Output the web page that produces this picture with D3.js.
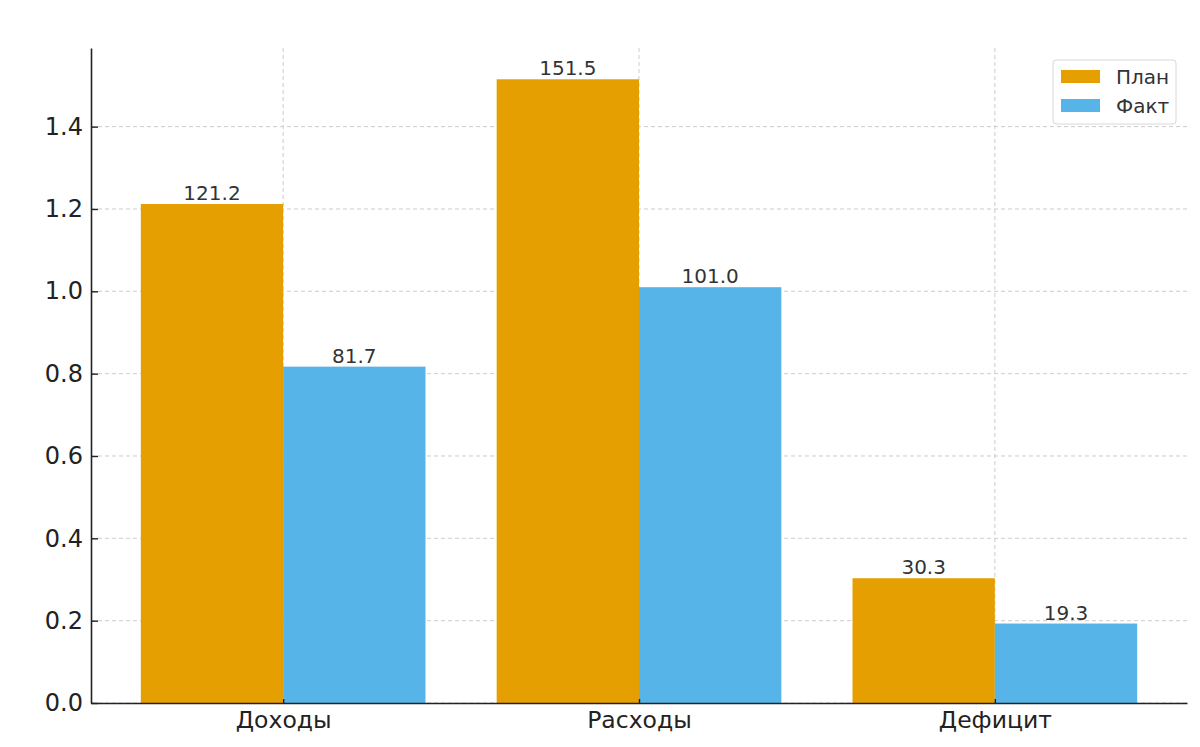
<!DOCTYPE html>
<html><head><meta charset="utf-8">
<script src="https://cdn.jsdelivr.net/npm/d3@7"></script>
<style>body{margin:0;background:#fff}svg{display:block}text{font-family:"DejaVu Sans",sans-serif}</style>
</head><body><svg id="c" width="1200" height="747"></svg>
<script>
const categories = ["Доходы", "Расходы", "Дефицит"];
const seriesNames = ["План", "Факт"];
const planValues = [1.212, 1.515, 0.303];
const factValues = [0.817, 1.010, 0.193];
const planLabels = ["121.2", "151.5", "30.3"];
const factLabels = ["81.7", "101.0", "19.3"];
const yTicks = [0, 0.2, 0.4, 0.6, 0.8, 1.0, 1.2, 1.4];
const colors = ["#E69F00", "#56B4E9"];

const svg = d3.select("#c");
const L = 91, R = 1187, T = 48, B = 703;
const x = d3.scaleLinear().domain([-0.54, 2.54]).range([L, R]);
const y = d3.scaleLinear().domain([0, 1.591]).range([B, T]);
const bw = 0.4;

// grid
const g = svg.append("g");
g.selectAll("line.gy").data(yTicks).join("line")
  .attr("x1", L).attr("x2", R).attr("y1", d => y(d)).attr("y2", d => y(d))
  .attr("stroke", "#cccccc").attr("stroke-width", 1).attr("stroke-dasharray", "4,3");
g.selectAll("line.gx").data(categories).join("line")
  .attr("x1", (d, i) => x(i)).attr("x2", (d, i) => x(i)).attr("y1", T).attr("y2", B)
  .attr("stroke", "#cccccc").attr("stroke-width", 1).attr("stroke-dasharray", "4,3");

const series = [planValues, factValues];
const labels = [planLabels, factLabels];
series.forEach((vals, s) => {
  const off = s === 0 ? -bw : 0;
  svg.append("g").selectAll("rect").data(vals).join("rect")
    .attr("x", (d, i) => x(i + off)).attr("width", x(bw) - x(0))
    .attr("y", d => y(d)).attr("height", d => B - y(d))
    .attr("fill", colors[s]);
  svg.append("g").selectAll("text").data(vals).join("text")
    .attr("x", (d, i) => x(i + off + bw / 2)).attr("y", d => y(d) - 4)
    .attr("text-anchor", "middle").attr("font-size", 20).attr("fill", "#333")
    .text((d, i) => labels[s][i]);
});

// axes
const ya = svg.append("g").attr("transform", `translate(${L},0)`)
  .call(d3.axisLeft(y).tickValues(yTicks).tickFormat(d3.format(".1f")).tickSizeInner(-7).tickSizeOuter(0).tickPadding(8));
ya.select(".domain").attr("stroke", "#222").attr("stroke-width", 1.6);
ya.selectAll(".tick line").attr("stroke", "#222").attr("stroke-width", 1.4);
ya.selectAll("text").attr("font-size", 24).attr("fill", "#222").attr("font-family", "DejaVu Sans");

const xa = svg.append("g").attr("transform", `translate(0,${B})`)
  .call(d3.axisBottom(x).tickValues([0, 1, 2]).tickFormat(i => categories[i]).tickSizeInner(-4).tickSizeOuter(0).tickPadding(8));
xa.select(".domain").attr("stroke", "#222").attr("stroke-width", 1.6);
xa.selectAll(".tick line").attr("stroke", "#222").attr("stroke-width", 1.4);
xa.selectAll("text").attr("font-size", 23.5).attr("fill", "#222").attr("font-family", "DejaVu Sans");

// legend
const lg = svg.append("g").attr("transform", "translate(1053,60)");
lg.append("rect").attr("width", 123).attr("height", 64).attr("rx", 3)
  .attr("fill", "#fff").attr("fill-opacity", 0.85).attr("stroke", "#d8d8d8");
seriesNames.forEach((n, i) => {
  lg.append("rect").attr("x", 8).attr("y", 10 + i * 29).attr("width", 39).attr("height", 13).attr("fill", colors[i]);
  lg.append("text").attr("x", 63).attr("y", 24 + i * 29).attr("font-size", 20).attr("fill", "#333").text(n);
});
</script></body></html>
